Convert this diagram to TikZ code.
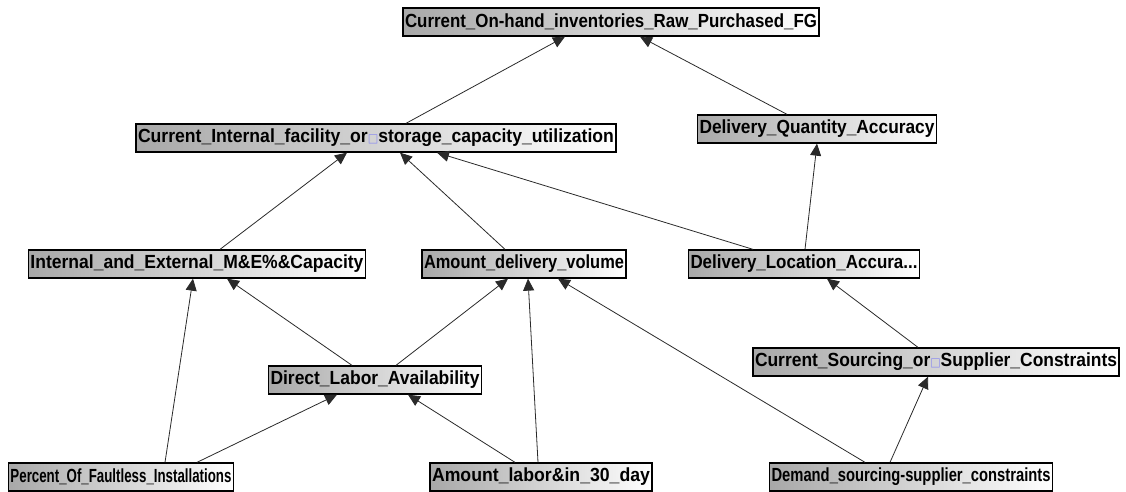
\documentclass[tikz,border=0pt]{standalone}
\usepackage{fontspec}
\setmainfont{Liberation Sans}
\newfontfamily\symfont{DejaVu Sans}
\usepackage{graphicx}
\usepackage{tikz}
\usetikzlibrary{arrows.meta}
\definecolor{netGray}{HTML}{A8A8A8}
\definecolor{netEdge}{HTML}{2A2A2A}
\definecolor{glyphBlue}{HTML}{8C8CF0}
\newcommand{\missing}{{\symfont\color{glyphBlue}\fontsize{12}{12}\selectfont□}}
\newcommand{\fitto}[2]{\resizebox{#1}{\height}{#2}}

\begin{document}
\begin{tikzpicture}[x=1pt,y=-1pt,
    every node/.style={font=\fontsize{19}{19}\selectfont\bfseries},
    var/.style={draw=black,line width=1.3pt,left color=netGray,right color=white,
      minimum height=28pt,inner xsep=2pt,inner ysep=0pt},
    link/.style={draw=netEdge,line width=0.8pt,-{Triangle[length=12pt,width=11pt]}}]
  \useasboundingbox (0,0) rectangle (1126,492);
  % level 0
  \node[var] (inv) at (611,22) {\fitto{412pt}{Current\_On-hand\_inventories\_Raw\_Purchased\_FG}};
  % level 1
  \node[var] (cap) at (376,138) {\fitto{476pt}{Current\_Internal\_facility\_or\missing storage\_capacity\_utilization}};
  \node[var] (dqa) at (817,129) {\fitto{235pt}{Delivery\_Quantity\_Accuracy}};
  % level 2
  \node[var] (mne) at (197,264) {\fitto{333pt}{Internal\_and\_External\_M\&E\%\&Capacity}};
  \node[var] (vol) at (524,264) {\fitto{200pt}{Amount\_delivery\_volume}};
  \node[var] (dla) at (804,264) {\fitto{227pt}{Delivery\_Location\_Accura...}};
  % level 3
  \node[var] (lab) at (375,380) {\fitto{209pt}{Direct\_Labor\_Availability}};
  \node[var] (sup) at (936,362) {\fitto{362pt}{Current\_Sourcing\_or\missing Supplier\_Constraints}};
  % level 4
  \node[var] (fau) at (121,477) {\fitto{221pt}{Percent\_Of\_Faultless\_Installations}};
  \node[var] (day) at (541,477) {\fitto{218pt}{Amount\_labor\&in\_30\_day}};
  \node[var] (dem) at (911,477) {\fitto{279pt}{Demand\_sourcing-supplier\_constraints}};

  \draw[link] ([xshift=30pt]cap.north) -- ([xshift=-46pt]inv.south);
  \draw[link] ([xshift=-30pt]dqa.north) -- ([xshift=29pt]inv.south);
  \draw[link] ([xshift=23pt]mne.north) -- ([xshift=-29pt]cap.south);
  \draw[link] ([xshift=-19pt]vol.north) -- ([xshift=24pt]cap.south);
  \draw[link] ([xshift=-51pt]dla.north) -- ([xshift=61pt]cap.south);
  \draw[link] ([xshift=1pt]dla.north) -- ([xshift=0pt]dqa.south);
  \draw[link] ([xshift=44pt]fau.north) -- ([xshift=-4pt]mne.south);
  \draw[link] ([xshift=-23pt]lab.north) -- ([xshift=30pt]mne.south);
  \draw[link] ([xshift=21pt]lab.north) -- ([xshift=-16pt]vol.south);
  \draw[link] ([xshift=76pt]fau.north) -- ([xshift=-38pt]lab.south);
  \draw[link] ([xshift=-26pt]day.north) -- ([xshift=33pt]lab.south);
  \draw[link] ([xshift=-3pt]day.north) -- ([xshift=4pt]vol.south);
  \draw[link] ([xshift=-46pt]dem.north) -- ([xshift=34pt]vol.south);
  \draw[link] ([xshift=-21pt]dem.north) -- ([xshift=-8pt]sup.south);
  \draw[link] ([xshift=-18pt]sup.north) -- ([xshift=23pt]dla.south);
\end{tikzpicture}
\end{document}
